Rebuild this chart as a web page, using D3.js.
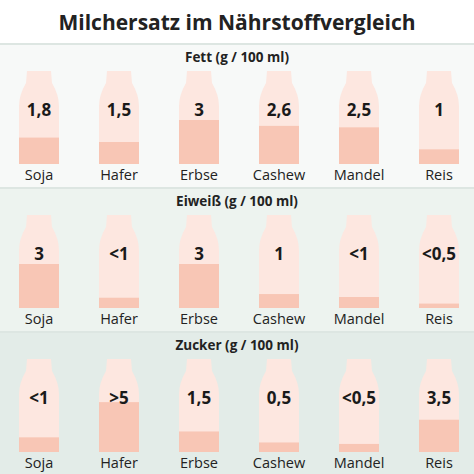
<!DOCTYPE html>
<html><head><meta charset="utf-8">
<script src="https://cdn.jsdelivr.net/npm/d3@7"></script>
<style>body{margin:0;background:#fff}</style>
</head><body><div id="chart"></div>
<script>
const drinks = ["Soja", "Hafer", "Erbse", "Cashew", "Mandel", "Reis"];
const sections = ["Fett (g / 100 ml)", "Eiweiß (g / 100 ml)", "Zucker (g / 100 ml)"];
const fettLabels = ["1,8", "1,5", "3", "2,6", "2,5", "1"];
const fettValues = [1.8, 1.5, 3, 2.6, 2.5, 1];
const eiweissLabels = ["3", "<1", "3", "1", "<1", "<0,5"];
const eiweissValues = [3, 0.7, 3, 0.95, 0.75, 0.3];
const zuckerLabels = ["<1", ">5", "1,5", "0,5", "<0,5", "3,5"];
const zuckerValues = [1, 3.4, 1.4, 0.65, 0.55, 2.2];

const labels = [fettLabels, eiweissLabels, zuckerLabels];
const values = [fettValues, eiweissValues, zuckerValues];

const W = 474, H = 474;
const svg = d3.select("#chart").append("svg").attr("width", W).attr("height", H);
const font = "'Open Sans', sans-serif";

const x = d3.scalePoint().domain(drinks).range([39, 439]);
const fillScale = d3.scaleLinear().domain([0, 3]).range([0, 44]);

const bands = [{y: 44, h: 144, bg: "#f7f9f8"}, {y: 188, h: 144, bg: "#edf3ef"}, {y: 332, h: 142, bg: "#e3ece8"}];

svg.append("rect").attr("width", W).attr("height", 44).attr("fill", "#fff");
svg.append("text").attr("x", W / 2).attr("y", 30).attr("text-anchor", "middle")
  .attr("font-family", font).attr("font-weight", 700).attr("font-size", 21).attr("fill", "#222")
  .text("Milchersatz im Nährstoffvergleich");

const bw = 40;
function bottle(cx, top, bot) {
  const p = d3.path();
  p.moveTo(cx - 12, top);
  p.lineTo(cx + 12, top);
  p.lineTo(cx + 13, top + 12);
  p.quadraticCurveTo(cx + 20, top + 24, cx + 20, top + 35);
  p.lineTo(cx + 20, bot);
  p.lineTo(cx - 20, bot);
  p.lineTo(cx - 20, top + 35);
  p.quadraticCurveTo(cx - 20, top + 24, cx - 13, top + 12);
  p.closePath();
  return p.toString();
}

bands.forEach((b, si) => {
  const g = svg.append("g");
  g.append("rect").attr("x", 0).attr("y", b.y).attr("width", W).attr("height", b.h).attr("fill", b.bg);
  g.append("line").attr("x1", 0).attr("x2", W).attr("y1", b.y).attr("y2", b.y)
    .attr("stroke", "#dde6e2").attr("stroke-width", 2);
  g.append("text").attr("x", W / 2).attr("y", b.y + 18).attr("text-anchor", "middle")
    .attr("font-family", font).attr("font-weight", 700).attr("font-size", 13.5).attr("fill", "#222")
    .text(sections[si]);
  const top = b.y + 27, bot = b.y + 120;
  const cols = g.selectAll("g.col").data(drinks).join("g").attr("class", "col");
  cols.append("path").attr("d", d => bottle(x(d), top, bot)).attr("fill", "#fde7e0");
  cols.append("rect")
    .attr("x", d => x(d) - bw / 2)
    .attr("y", (d, i) => bot - fillScale(values[si][i]))
    .attr("width", bw)
    .attr("height", (d, i) => fillScale(values[si][i]))
    .attr("fill", "#f8c6b5");
  cols.append("text").attr("x", d => x(d)).attr("y", top + 45).attr("text-anchor", "middle")
    .attr("font-family", font).attr("font-weight", 700).attr("font-size", 17).attr("fill", "#1a1a1a")
    .text((d, i) => labels[si][i]);
  cols.append("text").attr("x", d => x(d)).attr("y", bot + 16).attr("text-anchor", "middle")
    .attr("font-family", font).attr("font-size", 14.5).attr("fill", "#222")
    .text(d => d);
});
</script>
</body></html>
